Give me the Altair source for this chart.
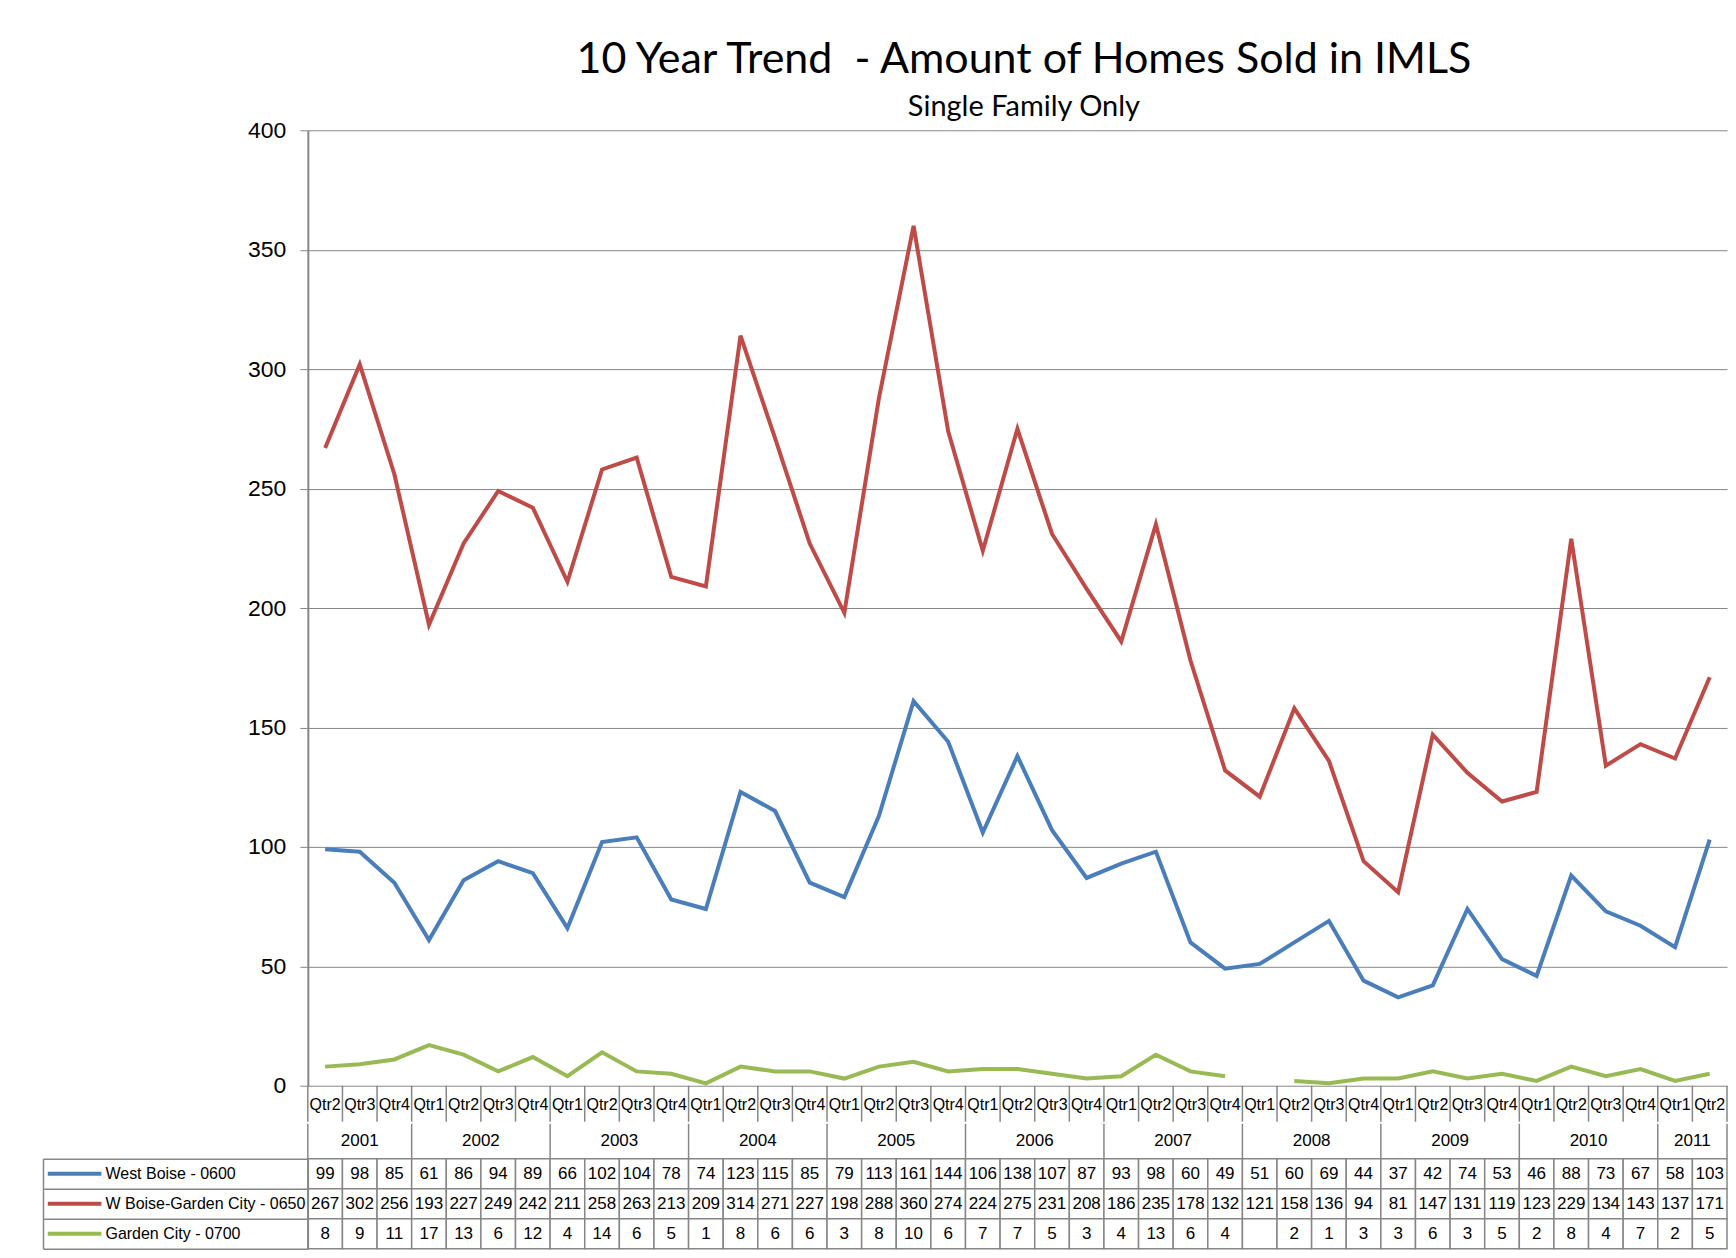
import altair as alt
import pandas as pd

# ---------------- data ----------------
series_names = ["West Boise - 0600", "W Boise-Garden City - 0650", "Garden City - 0700"]
series_colors = ["#4a7ebb", "#be4b48", "#98b954"]

quarter_labels = ["Qtr2", "Qtr3", "Qtr4"] + ["Qtr1", "Qtr2", "Qtr3", "Qtr4"] * 9 + ["Qtr1", "Qtr2"]
year_labels = ["2001", "2002", "2003", "2004", "2005", "2006", "2007", "2008", "2009", "2010", "2011"]
quarters_per_year = [3, 4, 4, 4, 4, 4, 4, 4, 4, 4, 2]

west_boise = [99, 98, 85, 61, 86, 94, 89, 66, 102, 104, 78, 74, 123, 115, 85, 79, 113, 161, 144,
              106, 138, 107, 87, 93, 98, 60, 49, 51, 60, 69, 44, 37, 42, 74, 53, 46, 88, 73, 67, 58, 103]
w_boise_garden = [267, 302, 256, 193, 227, 249, 242, 211, 258, 263, 213, 209, 314, 271, 227, 198, 288,
                  360, 274, 224, 275, 231, 208, 186, 235, 178, 132, 121, 158, 136, 94, 81, 147, 131,
                  119, 123, 229, 134, 143, 137, 171]
garden_city = [8, 9, 11, 17, 13, 6, 12, 4, 14, 6, 5, 1, 8, 6, 6, 3, 8, 10, 6, 7, 7, 5, 3, 4, 13, 6, 4,
               None, 2, 1, 3, 3, 6, 3, 5, 2, 8, 4, 7, 2, 5]

# ---------------- tables built from the lists ----------------
n = len(quarter_labels)
point_year = [y for y, c in zip(year_labels, quarters_per_year) for _ in range(c)]

rows = []
for name, vals in zip(series_names, [west_boise, w_boise_garden, garden_city]):
    for i, v in enumerate(vals):
        rows.append({"idx": i, "series": name, "value": v,
                     "label": "" if v is None else str(v)})
df = pd.DataFrame(rows)

qdf = pd.DataFrame({"idx": list(range(n)), "q": quarter_labels, "year": point_year})
ydf = qdf.groupby("year", as_index=False)["idx"].mean()

cell_bounds = pd.DataFrame({"pos": [i - 0.5 for i in range(n + 1)]})
year_bounds_pos = [-0.5]
acc = -0.5
for c in quarters_per_year:
    acc += c
    year_bounds_pos.append(acc)
year_bounds = pd.DataFrame({"pos": year_bounds_pos})

# ---------------- styling ----------------
W = 1420
GRAY = "#868686"
TFONT = "Liberation Sans"
xscale = alt.Scale(domain=[-0.5, n - 0.5], nice=False, zero=False)
color_scale = alt.Scale(domain=series_names, range=series_colors)

# ---------------- line panel ----------------
lines = alt.Chart(df).mark_line(strokeWidth=4).encode(
    x=alt.X("idx:Q", scale=xscale, axis=None),
    y=alt.Y("value:Q", scale=alt.Scale(domain=[0, 400], nice=False),
            axis=alt.Axis(values=list(range(0, 401, 50)), title=None, grid=True,
                          gridColor=GRAY, gridWidth=1, domainColor=GRAY, domainWidth=2,
                          tickColor=GRAY, tickSize=8, labelFontSize=23,
                          labelFont="Liberation Sans", labelColor="black", labelPadding=14)),
    color=alt.Color("series:N", scale=color_scale, legend=None),
).properties(width=W, height=956)

# ---------------- quarter row ----------------
q_text = alt.Chart(qdf).mark_text(font=TFONT, fontSize=16, color="black").encode(
    x=alt.X("idx:Q", scale=xscale, axis=None),
    y=alt.value(19),
    text="q:N",
)
q_rules = alt.Chart(cell_bounds).mark_rule(color=GRAY, strokeWidth=1.5).encode(
    x=alt.X("pos:Q", scale=xscale, axis=None),
    y=alt.value(0), y2=alt.value(36),
)
q_row = alt.layer(q_rules, q_text).properties(width=W, height=38)

# ---------------- year row ----------------
y_text = alt.Chart(ydf).mark_text(font=TFONT, fontSize=17, color="black").encode(
    x=alt.X("idx:Q", scale=xscale, axis=None),
    y=alt.value(17),
    text="year:N",
)
y_rules = alt.Chart(year_bounds).mark_rule(color=GRAY, strokeWidth=1.5).encode(
    x=alt.X("pos:Q", scale=xscale, axis=None),
    y=alt.value(0), y2=alt.value(35),
)
y_row = alt.layer(y_rules, y_text).properties(width=W, height=35)

# ---------------- data table ----------------
band = alt.Scale(domain=series_names, paddingInner=0, paddingOuter=0)
cells = alt.Chart(df).transform_calculate(
    x0="datum.idx - 0.5", x1="datum.idx + 0.5"
).mark_rect(fill="white", stroke=GRAY, strokeWidth=1.5).encode(
    x=alt.X("x0:Q", scale=xscale, axis=None),
    x2="x1:Q",
    y=alt.Y("series:N", scale=band,
            axis=alt.Axis(title=None, labels=False, tickBand="extent", tickSize=265,
                          tickColor=GRAY, domainColor=GRAY, tickWidth=1.5, domainWidth=1.5)),
)
nums = alt.Chart(df).mark_text(font=TFONT, fontSize=17, color="black").encode(
    x=alt.X("idx:Q", scale=xscale, axis=None),
    y=alt.Y("series:N", scale=band, axis=None),
    text="label:N",
)
legend_layer = alt.Chart(df).transform_filter("false").mark_line(strokeWidth=4).encode(
    x=alt.X("idx:Q", scale=xscale, axis=None),
    y=alt.Y("series:N", scale=alt.Scale(domain=series_names),
            axis=alt.Axis(orient="left", offset=265, labels=False, ticks=False, title=None,
                          domainColor=GRAY, domainWidth=1.5)),
    color=alt.Color("series:N", scale=color_scale,
                    legend=alt.Legend(orient="none", legendX=-262.5, legendY=6, title=None,
                                      symbolType="M-1,0H7", symbolSize=180, symbolStrokeWidth=4,
                                      symbolOpacity=1, symbolFillColor="transparent",
                                      labelFont=TFONT, labelFontSize=16,
                                      labelColor="black", labelOffset=42, rowPadding=13,
                                      padding=0, labelLimit=400)),
)
table = alt.layer(cells, nums, legend_layer).resolve_scale(y="independent").resolve_axis(
    y="independent").properties(width=W, height=90)

chart = alt.vconcat(lines, q_row, y_row, table, spacing=0, bounds="flush").resolve_scale(
    color="independent"
).resolve_legend(color="independent").properties(
    title=alt.TitleParams(
        "10 Year Trend\u00a0 - Amount of Homes Sold in IMLS",
        subtitle="Single Family Only",
        font="Lato", fontSize=43, fontWeight="normal", color="black",
        subtitleFont="Lato", subtitleFontSize=29, subtitleColor="black",
        anchor="middle", offset=-3, subtitlePadding=11, dx=139,
    ),
    padding={"left": 34, "top": 31, "right": 0, "bottom": 0},
    background="white",
).configure_view(stroke=None)

chart.save("out.html", embed_options={"renderer": "svg", "actions": False})
